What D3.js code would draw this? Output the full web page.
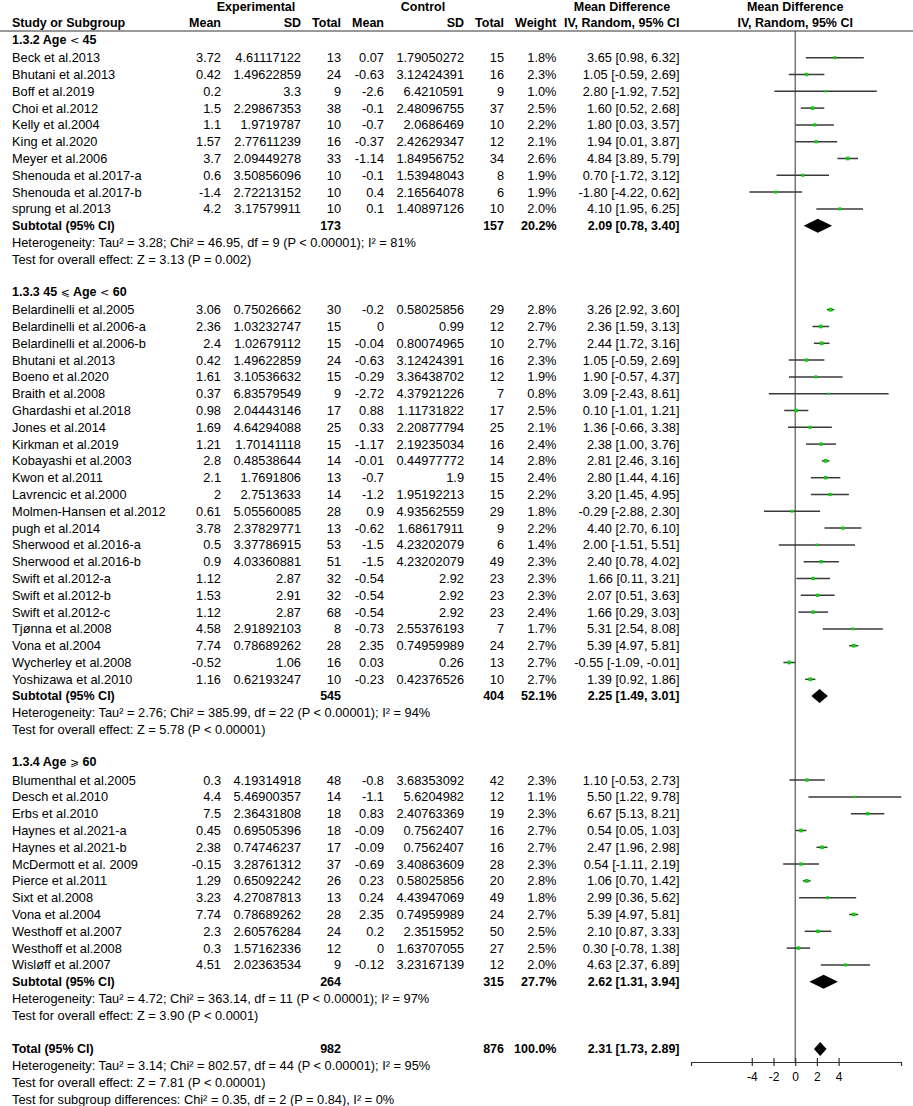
<!DOCTYPE html>
<html>
<head>
<meta charset="utf-8">
<script src="https://cdn.jsdelivr.net/npm/d3@7"></script>
<style>
  body { margin: 0; background: #fff; }
  svg { display: block; }
  text { font-family: "Liberation Sans", Arial, sans-serif; fill: #000; }
</style>
</head>
<body>
<svg id="chart" width="913" height="1106"></svg>
<script>
// ---------------- DATA ----------------
const groupTitles = [["1.3.2 Age ", "<", " 45"], ["1.3.3 45 ", "⩽", " Age ", "<", " 60"], ["1.3.4 Age ", "⩾", " 60"]];

const studies1 = ["Beck et al.2013","Bhutani et al.2013","Boff et al.2019","Choi et al.2012","Kelly et al.2004","King et al.2020","Meyer et al.2006","Shenouda et al.2017-a","Shenouda et al.2017-b","sprung et al.2013"];
const expMean1 = ["3.72","0.42","0.2","1.5","1.1","1.57","3.7","0.6","-1.4","4.2"];
const expSD1 = ["4.61117122","1.49622859","3.3","2.29867353","1.9719787","2.77611239","2.09449278","3.50856096","2.72213152","3.17579911"];
const expN1 = [13,24,9,38,10,16,33,10,10,10];
const ctlMean1 = ["0.07","-0.63","-2.6","-0.1","-0.7","-0.37","-1.14","-0.1","0.4","0.1"];
const ctlSD1 = ["1.79050272","3.12424391","6.4210591","2.48096755","2.0686469","2.42629347","1.84956752","1.53948043","2.16564078","1.40897126"];
const ctlN1 = [15,16,9,37,10,12,34,8,6,10];
const weight1 = [1.8,2.3,1.0,2.5,2.2,2.1,2.6,1.9,1.9,2.0];
const md1 = [3.65,1.05,2.80,1.60,1.80,1.94,4.84,0.70,-1.80,4.10];
const lo1 = [0.98,-0.59,-1.92,0.52,0.03,0.01,3.89,-1.72,-4.22,1.95];
const hi1 = [6.32,2.69,7.52,2.68,3.57,3.87,5.79,3.12,0.62,6.25];

const studies2 = ["Belardinelli et al.2005","Belardinelli et al.2006-a","Belardinelli et al.2006-b","Bhutani et al.2013","Boeno et al.2020","Braith et al.2008","Ghardashi et al.2018","Jones et al.2014","Kirkman et al.2019","Kobayashi et al.2003","Kwon et al.2011","Lavrencic et al.2000","Molmen-Hansen et al.2012","pugh et al.2014","Sherwood et al.2016-a","Sherwood et al.2016-b","Swift et al.2012-a","Swift et al.2012-b","Swift et al.2012-c","Tjønna et al.2008","Vona et al.2004","Wycherley et al.2008","Yoshizawa et al.2010"];
const expMean2 = ["3.06","2.36","2.4","0.42","1.61","0.37","0.98","1.69","1.21","2.8","2.1","2","0.61","3.78","0.5","0.9","1.12","1.53","1.12","4.58","7.74","-0.52","1.16"];
const expSD2 = ["0.75026662","1.03232747","1.02679112","1.49622859","3.10536632","6.83579549","2.04443146","4.64294088","1.70141118","0.48538644","1.7691806","2.7513633","5.05560085","2.37829771","3.37786915","4.03360881","2.87","2.91","2.87","2.91892103","0.78689262","1.06","0.62193247"];
const expN2 = [30,15,15,24,15,9,17,25,15,14,13,14,28,13,53,51,32,32,68,8,28,16,10];
const ctlMean2 = ["-0.2","0","-0.04","-0.63","-0.29","-2.72","0.88","0.33","-1.17","-0.01","-0.7","-1.2","0.9","-0.62","-1.5","-1.5","-0.54","-0.54","-0.54","-0.73","2.35","0.03","-0.23"];
const ctlSD2 = ["0.58025856","0.99","0.80074965","3.12424391","3.36438702","4.37921226","1.11731822","2.20877794","2.19235034","0.44977772","1.9","1.95192213","4.93562559","1.68617911","4.23202079","4.23202079","2.92","2.92","2.92","2.55376193","0.74959989","0.26","0.42376526"];
const ctlN2 = [29,12,10,16,12,7,17,25,16,14,15,15,29,9,6,49,23,23,23,7,24,13,10];
const weight2 = [2.8,2.7,2.7,2.3,1.9,0.8,2.5,2.1,2.4,2.8,2.4,2.2,1.8,2.2,1.4,2.3,2.3,2.3,2.4,1.7,2.7,2.7,2.7];
const md2 = [3.26,2.36,2.44,1.05,1.90,3.09,0.10,1.36,2.38,2.81,2.80,3.20,-0.29,4.40,2.00,2.40,1.66,2.07,1.66,5.31,5.39,-0.55,1.39];
const lo2 = [2.92,1.59,1.72,-0.59,-0.57,-2.43,-1.01,-0.66,1.00,2.46,1.44,1.45,-2.88,2.70,-1.51,0.78,0.11,0.51,0.29,2.54,4.97,-1.09,0.92];
const hi2 = [3.60,3.13,3.16,2.69,4.37,8.61,1.21,3.38,3.76,3.16,4.16,4.95,2.30,6.10,5.51,4.02,3.21,3.63,3.03,8.08,5.81,-0.01,1.86];

const studies3 = ["Blumenthal et al.2005","Desch et al.2010","Erbs et al.2010","Haynes et al.2021-a","Haynes et al.2021-b","McDermott et al. 2009","Pierce et al.2011","Sixt et al.2008","Vona et al.2004","Westhoff et al.2007","Westhoff et al.2008","Wisløff et al.2007"];
const expMean3 = ["0.3","4.4","7.5","0.45","2.38","-0.15","1.29","3.23","7.74","2.3","0.3","4.51"];
const expSD3 = ["4.19314918","5.46900357","2.36431808","0.69505396","0.74746237","3.28761312","0.65092242","4.27087813","0.78689262","2.60576284","1.57162336","2.02363534"];
const expN3 = [48,14,18,18,17,37,26,13,28,24,12,9];
const ctlMean3 = ["-0.8","-1.1","0.83","-0.09","-0.09","-0.69","0.23","0.24","2.35","0.2","0","-0.12"];
const ctlSD3 = ["3.68353092","5.6204982","2.40763369","0.7562407","0.7562407","3.40863609","0.58025856","4.43947069","0.74959989","2.3515952","1.63707055","3.23167139"];
const ctlN3 = [42,12,19,16,16,28,20,49,24,50,27,12];
const weight3 = [2.3,1.1,2.3,2.7,2.7,2.3,2.8,1.8,2.7,2.5,2.5,2.0];
const md3 = [1.10,5.50,6.67,0.54,2.47,0.54,1.06,2.99,5.39,2.10,0.30,4.63];
const lo3 = [-0.53,1.22,5.13,0.05,1.96,-1.11,0.70,0.36,4.97,0.87,-0.78,2.37];
const hi3 = [2.73,9.78,8.21,1.03,2.98,2.19,1.42,5.62,5.81,3.33,1.38,6.89];

const subExpN = [173, 545, 264];
const subCtlN = [157, 404, 315];
const subWeight = ["20.2%", "52.1%", "27.7%"];
const subMD = [2.09, 2.25, 2.62];
const subLo = [0.78, 1.49, 1.31];
const subHi = [3.40, 3.01, 3.94];
const subHet = [
  "Heterogeneity: Tau² = 3.28; Chi² = 46.95, df = 9 (P < 0.00001); I² = 81%",
  "Heterogeneity: Tau² = 2.76; Chi² = 385.99, df = 22 (P < 0.00001); I² = 94%",
  "Heterogeneity: Tau² = 4.72; Chi² = 363.14, df = 11 (P < 0.00001); I² = 97%"
];
const subTest = [
  "Test for overall effect: Z = 3.13 (P = 0.002)",
  "Test for overall effect: Z = 5.78 (P < 0.00001)",
  "Test for overall effect: Z = 3.90 (P < 0.0001)"
];

const totalExpN = 982, totalCtlN = 876, totalWeight = "100.0%";
const totalMD = 2.31, totalLo = 1.73, totalHi = 2.89;
const totalNotes = [
  "Heterogeneity: Tau² = 3.14; Chi² = 802.57, df = 44 (P < 0.00001); I² = 95%",
  "Test for overall effect: Z = 7.81 (P < 0.00001)",
  "Test for subgroup differences: Chi² = 0.35, df = 2 (P = 0.84), I² = 0%"
];

const tickValues = [-4, -2, 0, 2, 4];
const axisExtent = [-9.6, 9.75];

// ---------------- LAYOUT ----------------
const groups = [
  {studies: studies1, em: expMean1, es: expSD1, en: expN1, cm: ctlMean1, cs: ctlSD1, cn: ctlN1, w: weight1, md: md1, lo: lo1, hi: hi1},
  {studies: studies2, em: expMean2, es: expSD2, en: expN2, cm: ctlMean2, cs: ctlSD2, cn: ctlN2, w: weight2, md: md2, lo: lo2, hi: hi2},
  {studies: studies3, em: expMean3, es: expSD3, en: expN3, cm: ctlMean3, cs: ctlSD3, cn: ctlN3, w: weight3, md: md3, lo: lo3, hi: hi3}
];

const locale = d3.formatLocale({decimal: ".", thousands: ",", grouping: [3], currency: ["", ""], minus: "-"});

const svg = d3.select("#chart");
svg.append("rect").attr("width", 913).attr("height", 1106).attr("fill", "#fff");

const x = d3.scaleLinear().domain(axisExtent).range([691, 901]);
const y = d3.scaleLinear().domain([0, 62]).range([57.7, 1099.3]);

const col = {name: 12, em: 221, es: 301, en: 341, cm: 384, cs: 464, cn: 504, w: 556.5, ci: 679.5};
const FS = "12.8px";

function txt(xp, yp, s, anchor, bold, size) {
  return svg.append("text")
    .attr("x", xp).attr("y", yp).attr("dy", "0.35em")
    .attr("text-anchor", anchor || "start")
    .style("font-size", size || (bold ? "12.5px" : FS))
    .style("font-weight", bold ? "bold" : "normal")
    .text(s);
}
const fmt = locale.format(".2f");
const ciText = (m, l, h) => `${fmt(m)} [${fmt(l)}, ${fmt(h)}]`;

// Column headers
const h1 = 6.7, h2 = 23;
txt(256, h1, "Experimental", "middle", true);
txt(423, h1, "Control", "middle", true);
txt(622, h1, "Mean Difference", "middle", true);
txt(x(0), h1, "Mean Difference", "middle", true);
txt(col.name, h2, "Study or Subgroup", "start", true);
txt(col.em, h2, "Mean", "end", true);
txt(col.es, h2, "SD", "end", true);
txt(col.en, h2, "Total", "end", true);
txt(col.cm, h2, "Mean", "end", true);
txt(col.cs, h2, "SD", "end", true);
txt(col.cn, h2, "Total", "end", true);
txt(col.w, h2, "Weight", "end", true);
txt(col.ci, h2, "IV, Random, 95% CI", "end", true);
txt(x(0), h2, "IV, Random, 95% CI", "middle", true);

svg.append("line").attr("x1", 0).attr("x2", 913).attr("y1", 31).attr("y2", 31)
  .attr("stroke", "#333").attr("stroke-width", 1);

// Zero line
svg.append("line").attr("x1", x(0)).attr("x2", x(0)).attr("y1", 31).attr("y2", 1062)
  .attr("stroke", "#333").attr("stroke-width", 1);

const plot = svg.append("g");
function diamond(r, m, l, h) {
  const yy = y(r), hh = 7;
  plot.append("path")
    .attr("d", `M${x(l)},${yy}L${x(m)},${yy - hh}L${x(h)},${yy}L${x(m)},${yy + hh}Z`)
    .attr("fill", "#000");
}

let r = -1;
groups.forEach((g, gi) => {
  // group title
  const t = txt(col.name, y(r) - 1.5, "", "start", true);
  groupTitles[gi].forEach(part => {
    const isSym = part === "<" || part === "⩽" || part === "⩾";
    t.append("tspan").style("font-weight", isSym ? "normal" : "bold")
      .style("font-family", isSym ? "DejaVu Sans, sans-serif" : null)
      .style("font-size", isSym ? "11px" : null)
      .text(part);
  });
  r++;
  g.studies.forEach((s, i) => {
    const yy = y(r);
    txt(col.name, yy, s, "start");
    txt(col.em, yy, g.em[i], "end");
    txt(col.es, yy, g.es[i], "end");
    txt(col.en, yy, g.en[i], "end");
    txt(col.cm, yy, g.cm[i], "end");
    txt(col.cs, yy, g.cs[i], "end");
    txt(col.cn, yy, g.cn[i], "end");
    txt(col.w, yy, g.w[i].toFixed(1) + "%", "end");
    txt(col.ci, yy, ciText(g.md[i], g.lo[i], g.hi[i]), "end");
    plot.append("line").attr("x1", x(g.lo[i])).attr("x2", x(g.hi[i]))
      .attr("y1", yy).attr("y2", yy).attr("stroke", "#3a3a3a").attr("stroke-width", 1.5);
    const sz = 1.5 + g.w[i] * 0.8;
    plot.append("rect").attr("x", x(g.md[i]) - sz / 2).attr("y", yy - sz / 2)
      .attr("width", sz).attr("height", sz).attr("fill", "#11cc11");
    r++;
  });
  // subtotal
  const ys = y(r);
  txt(col.name, ys, "Subtotal (95% CI)", "start", true);
  txt(col.en, ys, subExpN[gi], "end", true);
  txt(col.cn, ys, subCtlN[gi], "end", true);
  txt(col.w, ys, subWeight[gi], "end", true);
  txt(col.ci, ys, ciText(subMD[gi], subLo[gi], subHi[gi]), "end", true);
  diamond(r, subMD[gi], subLo[gi], subHi[gi]);
  r++;
  txt(col.name, y(r), subHet[gi], "start"); r++;
  txt(col.name, y(r), subTest[gi], "start"); r++;
  r++; // blank
});

// total
const yt = y(r);
txt(col.name, yt, "Total (95% CI)", "start", true);
txt(col.en, yt, totalExpN, "end", true);
txt(col.cn, yt, totalCtlN, "end", true);
txt(col.w, yt, totalWeight, "end", true);
txt(col.ci, yt, ciText(totalMD, totalLo, totalHi), "end", true);
diamond(r, totalMD, totalLo, totalHi);
r++;
totalNotes.forEach(n => { txt(col.name, y(r), n, "start"); r++; });

// axis
const axis = d3.axisBottom(x).tickValues(tickValues).tickSizeOuter(0).tickSize(4).tickPadding(6)
  .tickFormat(locale.format("d"));
const ag = svg.append("g").attr("transform", "translate(0,1062)").call(axis);
ag.select(".domain").attr("stroke", "#333").attr("stroke-width", 1.2);
ag.selectAll(".tick line").attr("y1", -4).attr("y2", 4).attr("stroke", "#333").attr("stroke-width", 1.2);
ag.selectAll(".tick text").style("font-family", "Liberation Sans, Arial, sans-serif")
  .style("font-size", "12px").attr("fill", "#000");
</script>
</body>
</html>
